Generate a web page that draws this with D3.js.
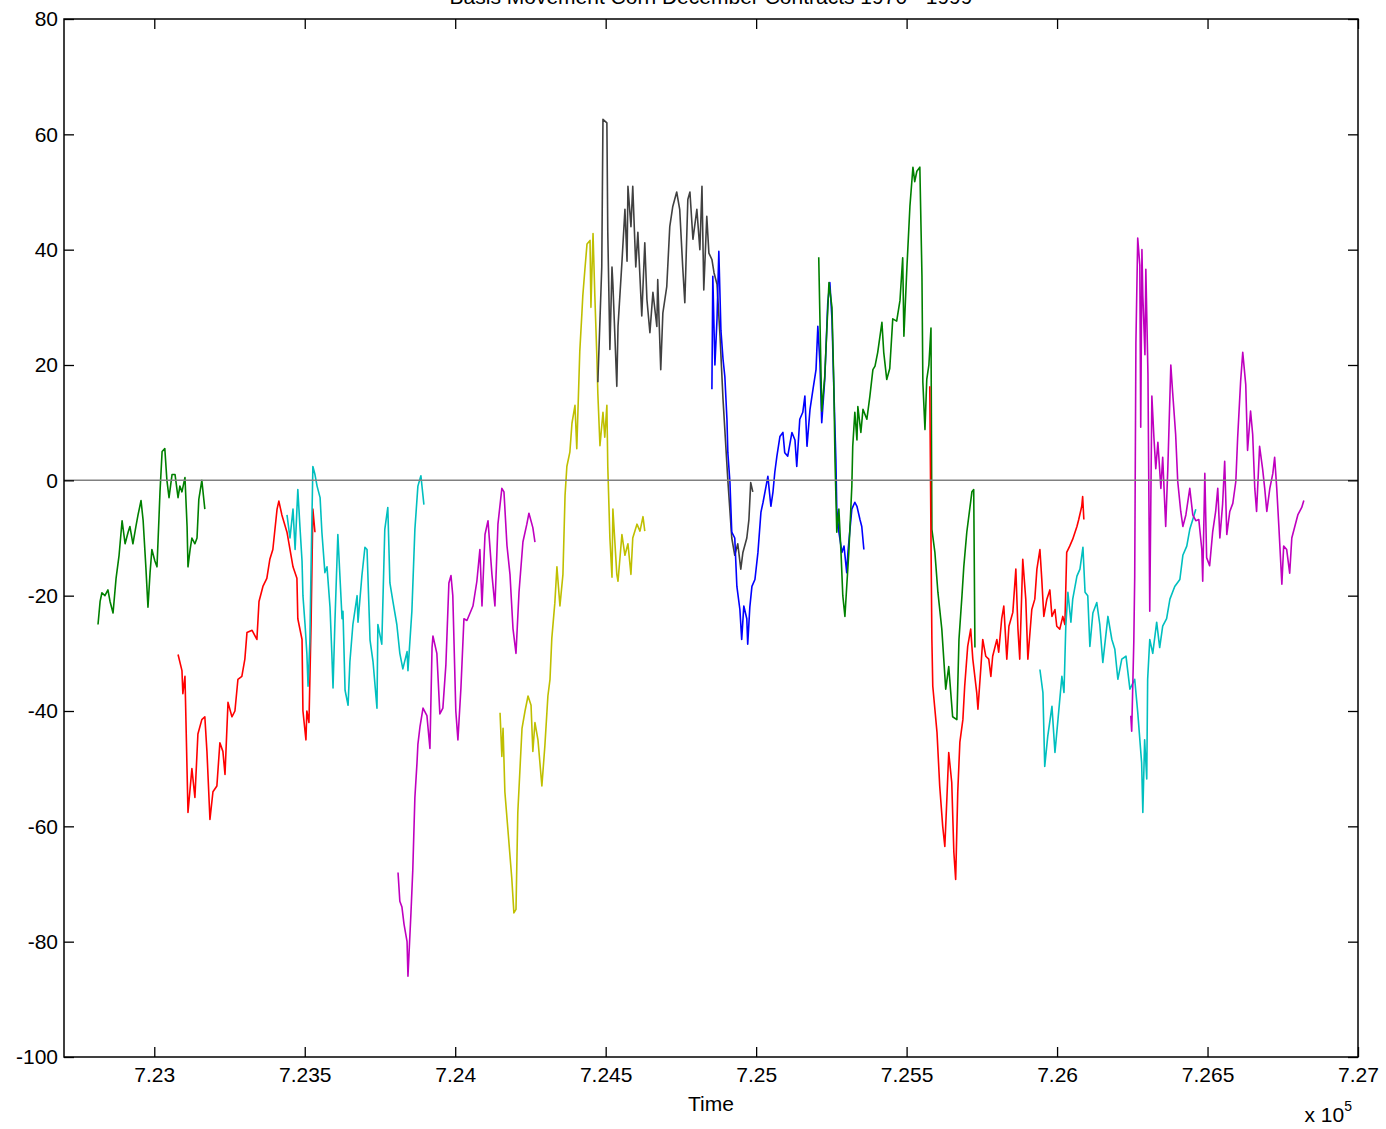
<!DOCTYPE html>
<html>
<head>
<meta charset="utf-8">
<script src="https://cdn.jsdelivr.net/npm/d3@7"></script>
<style>
  html, body { margin: 0; padding: 0; background: #fff; }
  svg { display: block; }
  text { font-family: "Liberation Sans", Arial, Helvetica, sans-serif; }
</style>
</head>
<body>
<svg id="chart" width="1386" height="1129"></svg>
<script>
// ---------------- data ----------------
const titleText = "Basis Movement Corn December Contracts 1970 - 1999";
const xLabelText = "Time";
const xDomain = [722700, 727000];
const yDomain = [-100, 80];
const xTicks = [723000, 723500, 724000, 724500, 725000, 725500, 726000, 726500, 727000];
const xTickLabels = ["7.23", "7.235", "7.24", "7.245", "7.25", "7.255", "7.26", "7.265", "7.27"];
const yTicks = [-100, -80, -60, -40, -20, 0, 20, 40, 60, 80];
const yTickLabels = ["-100", "-80", "-60", "-40", "-20", "0", "20", "40", "60", "80"];
const zeroLevel = 0;

const contract01 = [[722813,-25],[722820,-21],[722826,-19.5],[722836,-20],[722846,-19],[722853,-21],[722863,-23],[722873,-17],[722883,-13],[722893,-7],[722903,-11],[722913,-9],[722919,-8],[722929,-11],[722939,-8],[722946,-6],[722956,-3.5],[722963,-7],[722972,-15],[722979,-22],[722986,-16],[722992,-12],[723002,-14],[723009,-15],[723016,-6],[723019,-2],[723026,5],[723035,5.5],[723042,0],[723049,-3],[723059,1],[723069,1],[723079,-3],[723085,-1],[723092,-2],[723102,0.5],[723109,-8],[723112,-15],[723119,-12],[723125,-10],[723135,-11],[723142,-10],[723148,-3.3],[723158,0],[723168,-5]];
const contract02 = [[723079,-30.2],[723092,-33],[723095,-37],[723102,-34],[723112,-57.6],[723125,-50],[723135,-55],[723145,-44],[723158,-41.5],[723168,-41],[723175,-47],[723185,-58.8],[723195,-54],[723208,-53],[723218,-45.5],[723228,-47],[723235,-51],[723245,-38.5],[723258,-41],[723268,-40],[723278,-34.5],[723291,-34],[723301,-31],[723308,-26.4],[723325,-26],[723341,-27.6],[723348,-21],[723361,-18.4],[723374,-17],[723384,-13.7],[723394,-12],[723408,-5],[723414,-3.6],[723424,-6],[723441,-9],[723461,-15],[723474,-17],[723477,-24],[723491,-27.6],[723494,-40],[723504,-45],[723507,-40],[723514,-42],[723521,-25],[723527,-5],[723534,-9]];
const contract03 = [[723441,-6],[723451,-10],[723461,-5],[723468,-12],[723477,-1.6],[723484,-8],[723491,-14],[723494,-20],[723501,-25],[723507,-30],[723511,-35.7],[723517,-28],[723521,-15],[723527,2.4],[723534,1],[723541,-1],[723551,-3],[723557,-9],[723567,-16],[723574,-15],[723584,-22],[723590,-30],[723594,-36],[723600,-25],[723610,-9.4],[723624,-24],[723627,-22.7],[723634,-36.4],[723644,-39],[723650,-31.5],[723660,-25],[723674,-20],[723677,-24.6],[723690,-16.5],[723700,-11.6],[723707,-12],[723717,-27.7],[723727,-31.5],[723740,-39.5],[723743,-25],[723756,-28.4],[723766,-8.5],[723776,-4.7],[723783,-17.8],[723793,-21],[723806,-25],[723816,-30],[723826,-32.7],[723840,-29.7],[723843,-33],[723856,-22.7],[723866,-8.5],[723876,-1],[723886,0.8],[723896,-4.2]];
const contract04 = [[723810,-68],[723816,-73],[723823,-74],[723830,-77],[723840,-80],[723843,-86],[723853,-75],[723859,-67.6],[723866,-55],[723873,-49],[723876,-45.8],[723883,-42.7],[723893,-39.5],[723906,-40.8],[723916,-46.5],[723923,-29],[723926,-27],[723939,-30],[723949,-40.5],[723959,-39.5],[723969,-32],[723979,-17.8],[723986,-16.5],[723992,-20],[724002,-40],[724009,-45],[724019,-36],[724029,-24],[724039,-24.3],[724059,-21.8],[724072,-17.5],[724082,-12],[724089,-21.8],[724099,-9.4],[724109,-7],[724122,-16.3],[724132,-21.8],[724142,-7.6],[724155,-1.4],[724162,-2],[724172,-11.3],[724182,-16.3],[724192,-25.7],[724202,-30],[724212,-19.4],[724225,-10.7],[724238,-7.6],[724245,-5.7],[724258,-8.2],[724265,-10.7]];
const contract05 = [[724149,-40.3],[724155,-47.9],[724159,-43],[724165,-54],[724175,-60.5],[724188,-69],[724195,-75],[724202,-74.4],[724208,-57.6],[724222,-43],[724232,-40],[724242,-37.4],[724252,-39],[724258,-47],[724265,-42],[724275,-45],[724288,-53],[724298,-46],[724308,-37.4],[724315,-34.5],[724321,-27.4],[724331,-21.3],[724338,-15],[724348,-21.8],[724358,-16.3],[724365,-2.6],[724371,2.4],[724381,4.9],[724388,9.9],[724398,13],[724404,5.5],[724414,22.4],[724421,29],[724424,32],[724431,36.6],[724438,41],[724448,41.6],[724451,30],[724458,42.8],[724464,32],[724471,21],[724474,15],[724481,6],[724491,11.8],[724497,7.5],[724504,13],[724507,2.4],[724514,-10],[724521,-16.8],[724524,-5],[724537,-16.3],[724541,-17.5],[724554,-9.4],[724564,-13],[724574,-11],[724584,-16.3],[724590,-10],[724604,-7.6],[724614,-8.8],[724624,-6.3],[724630,-8.8]];
const contract06 = [[724474,17],[724487,37],[724491,62.6],[724504,62],[724507,43],[724514,22.7],[724521,37],[724524,34],[724537,16.3],[724541,26.7],[724554,37.8],[724564,47],[724571,38],[724574,51],[724584,44],[724590,51],[724600,37],[724607,43],[724620,28.5],[724630,41.2],[724637,31.4],[724647,25.6],[724657,32.6],[724670,26.7],[724673,34.8],[724683,19.2],[724690,29],[724703,33.6],[724713,44],[724723,47.5],[724736,50],[724746,47],[724756,37],[724763,30.8],[724773,48.7],[724780,50],[724790,41.8],[724803,47],[724813,40],[724820,51],[724826,33],[724836,45.8],[724843,39.4],[724853,38.3],[724860,36],[724870,34],[724880,25],[724890,14],[724906,0],[724919,-10],[724929,-13],[724939,-11],[724949,-15.4],[724956,-12.5],[724969,-10],[724976,-6.8],[724982,-0.4],[724989,-2]];
const contract07 = [[724853,15.8],[724856,35.4],[724863,20],[724870,28],[724876,39.7],[724883,26],[724890,21],[724896,18],[724903,10.6],[724906,4.8],[724913,-0.4],[724919,-9],[724929,-10],[724936,-18.4],[724946,-22.4],[724952,-27.6],[724959,-21.8],[724969,-24],[724972,-28.4],[724979,-22],[724986,-18.4],[724996,-17.2],[725006,-12.5],[725016,-5.5],[725023,-3.8],[725033,-1],[725039,0.7],[725049,-4.5],[725056,-2],[725062,1.4],[725069,4.2],[725079,7.6],[725089,8.3],[725095,4.8],[725105,4.2],[725119,8.3],[725129,7],[725135,2.4],[725145,10.6],[725155,11.8],[725162,14.6],[725169,5.9],[725179,12.3],[725189,15.8],[725199,19.2],[725205,26.7],[725212,20.4],[725218,10],[725228,17.5],[725238,30.8],[725245,34.3],[725252,28],[725258,16.3],[725265,3.6],[725268,-5],[725275,-9],[725285,-12.5],[725292,-11.4],[725301,-16],[725305,-12.5],[725311,-9],[725318,-5],[725328,-3.8],[725335,-4.5],[725345,-6.8],[725351,-8],[725358,-12]];
const contract08 = [[725208,38.7],[725218,12],[725228,18],[725242,34.3],[725252,30],[725258,17],[725262,3.6],[725268,-9],[725275,-5],[725282,-12.5],[725288,-20],[725295,-23.6],[725301,-18.4],[725308,-12.5],[725318,-1],[725321,5.9],[725328,11.8],[725335,7],[725338,12.8],[725348,8.3],[725355,12.3],[725368,10.6],[725378,14.6],[725388,19.2],[725395,19.8],[725404,22.2],[725418,27.4],[725424,22.2],[725434,17.5],[725444,19.4],[725454,28],[725467,27.6],[725478,31.2],[725487,38.6],[725491,25],[725501,36.9],[725511,47.5],[725521,54.3],[725527,51.8],[725534,53.6],[725544,54.3],[725551,35.5],[725554,17],[725561,8.8],[725567,17.5],[725574,20],[725581,26.4],[725584,-8.5],[725594,-12.5],[725604,-19.4],[725617,-25.8],[725630,-36.2],[725640,-32.3],[725653,-41],[725667,-41.5],[725674,-27.6],[725684,-20],[725690,-15],[725700,-9],[725717,-2],[725723,-1.6],[725727,-29]];
const contract09 = [[725577,16.3],[725581,-10],[725584,-27.6],[725587,-35.7],[725601,-43.7],[725610,-53],[725620,-60],[725627,-63.5],[725634,-55],[725640,-47.2],[725650,-52.4],[725657,-64.5],[725663,-69.2],[725670,-54],[725677,-45.4],[725687,-41.5],[725693,-35.7],[725703,-28.8],[725713,-25.8],[725720,-31],[725733,-36.8],[725737,-39.7],[725747,-32.3],[725753,-27.6],[725763,-30.5],[725773,-31],[725780,-34],[725786,-30.5],[725800,-27.6],[725806,-29.8],[725816,-24],[725823,-21.8],[725833,-31],[725840,-25.3],[725853,-22.9],[725863,-15.4],[725870,-25.8],[725876,-31],[725886,-13.7],[725896,-20.6],[725903,-31],[725916,-22.4],[725926,-20.6],[725933,-15.4],[725943,-12],[725949,-17],[725956,-23.6],[725966,-20.6],[725976,-19],[725983,-23.6],[725993,-22.4],[725999,-25.3],[726009,-25.8],[726019,-23.6],[726026,-25],[726032,-12.5],[726042,-11.4],[726052,-10.2],[726066,-8],[726072,-6.8],[726082,-4.5],[726085,-2.8],[726089,-6.8]];
const contract10 = [[725943,-32.8],[725953,-36.8],[725959,-49.6],[725969,-44.4],[725983,-39.2],[725993,-47.2],[726003,-41.5],[726016,-34],[726023,-36.8],[726029,-25.3],[726036,-19.4],[726046,-24.6],[726052,-20.6],[726066,-16.6],[726076,-15.4],[726086,-11.6],[726093,-19.4],[726102,-20],[726109,-28.8],[726119,-23],[726132,-21.2],[726142,-25],[726152,-31.6],[726169,-23.6],[726182,-27.6],[726192,-29.3],[726202,-34.5],[726215,-31],[726229,-30.5],[726242,-36.2],[726258,-34.5],[726268,-40.2],[726281,-49],[726285,-57.6],[726291,-45],[726298,-51.8],[726301,-34.5],[726308,-27.6],[726318,-30],[726331,-24.6],[726341,-29],[726351,-25.3],[726364,-24],[726375,-20.6],[726391,-18.4],[726408,-17.2],[726418,-13],[726431,-11.4],[726441,-8.5],[726451,-6.8],[726461,-5]];
const contract11 = [[726245,-40.8],[726248,-43.5],[726255,-28],[726258,-16.8],[726262,23.9],[726268,42],[726275,37.3],[726278,9.2],[726282,40],[726285,32],[726292,21.8],[726295,36.6],[726302,18.5],[726308,-22.7],[726315,14.6],[726322,7.3],[726328,2],[726335,6.6],[726345,-1.4],[726351,4],[726361,-8],[726368,2],[726378,20],[726384,15.3],[726394,8],[726401,-0.2],[726411,-5.4],[726418,-8],[726428,-6],[726441,-1.4],[726451,-6],[726461,-7],[726471,-6.8],[726481,-12],[726484,-17.5],[726491,1.2],[726497,-13.4],[726507,-14.8],[726517,-9],[726527,-5.4],[726534,-1.4],[726541,-10],[726550,-4.2],[726557,3.3],[726564,-9.4],[726574,-5.4],[726584,-4],[726594,-0.2],[726600,7.3],[726610,17.2],[726617,22.2],[726627,16.6],[726633,5.2],[726643,12],[726650,8],[726657,-1.4],[726663,-5.4],[726673,5.9],[726683,2],[726690,-1.4],[726697,-5.4],[726707,-1.4],[726717,1.2],[726723,4],[726730,-1.4],[726737,-8],[726747,-18],[726753,-11.4],[726763,-12],[726773,-16.1],[726780,-10],[726790,-8],[726800,-6],[726813,-4.7],[726820,-3.5]];

const contracts = [contract01, contract02, contract03, contract04, contract05, contract06,
                   contract07, contract08, contract09, contract10, contract11];
// MATLAB classic colour order, cycling
const seriesColors = ["#008000", "#ff0000", "#00bfbf", "#bf00bf", "#bfbf00", "#404040",
                      "#0000ff", "#008000", "#ff0000", "#00bfbf", "#bf00bf"];

// ---------------- layout ----------------
const W = 1386, H = 1129;
const margin = { left: 64, top: 19, right: 1386 - 1358, bottom: 1129 - 1057 };
const fontSize = 21;

const svg = d3.select("#chart");
const x = d3.scaleLinear().domain(xDomain).range([margin.left, W - margin.right]);
const y = d3.scaleLinear().domain(yDomain).range([H - margin.bottom, margin.top]);

const plotG = svg.append("g");
plotG.append("clipPath").attr("id", "clip")
  .append("rect")
  .attr("x", x(xDomain[0])).attr("y", y(yDomain[1]))
  .attr("width", x(xDomain[1]) - x(xDomain[0]))
  .attr("height", y(yDomain[0]) - y(yDomain[1]));

const line = d3.line().x(d => x(d[0])).y(d => y(d[1]));

const linesG = plotG.append("g").attr("clip-path", "url(#clip)");
contracts.forEach((c, i) => {
  linesG.append("path")
    .datum(c)
    .attr("d", line)
    .attr("fill", "none")
    .attr("stroke", seriesColors[i])
    .attr("stroke-width", 1.6)
    .attr("stroke-linejoin", "round");
});

// zero reference line
linesG.append("line")
  .attr("x1", x(xDomain[0])).attr("x2", x(xDomain[1]))
  .attr("y1", y(zeroLevel)).attr("y2", y(zeroLevel))
  .attr("stroke", "#808080").attr("stroke-width", 1.5);

// axes
const tickLen = 10;
const bottomAxis = d3.axisBottom(x).tickValues(xTicks)
  .tickFormat((d, i) => xTickLabels[i])
  .tickSizeInner(-tickLen).tickSizeOuter(0).tickPadding(10);
const topAxis = d3.axisTop(x).tickValues(xTicks).tickFormat("")
  .tickSizeInner(-tickLen).tickSizeOuter(0);
const leftAxis = d3.axisLeft(y).tickValues(yTicks)
  .tickFormat((d, i) => yTickLabels[i])
  .tickSizeInner(-tickLen).tickSizeOuter(0).tickPadding(6);
const rightAxis = d3.axisRight(y).tickValues(yTicks).tickFormat("")
  .tickSizeInner(-tickLen).tickSizeOuter(0);

function styleAxis(g) {
  g.select(".domain").remove();
  g.selectAll(".tick line").attr("stroke", "#000").attr("stroke-width", 1.3);
  g.selectAll(".tick text").attr("fill", "#000")
    .style("font-size", fontSize + "px")
    .style("font-family", '"Liberation Sans", Arial, sans-serif');
}

svg.append("g").attr("transform", `translate(0,${y(yDomain[0])})`).call(bottomAxis).call(styleAxis);
svg.append("g").attr("transform", `translate(0,${y(yDomain[1])})`).call(topAxis).call(styleAxis);
svg.append("g").attr("transform", `translate(${x(xDomain[0])},0)`).call(leftAxis).call(styleAxis);
svg.append("g").attr("transform", `translate(${x(xDomain[1])},0)`).call(rightAxis).call(styleAxis);

// box
svg.append("rect")
  .attr("x", x(xDomain[0])).attr("y", y(yDomain[1]))
  .attr("width", x(xDomain[1]) - x(xDomain[0]))
  .attr("height", y(yDomain[0]) - y(yDomain[1]))
  .attr("fill", "none").attr("stroke", "#000").attr("stroke-width", 1.5);

// title (partially cut off at top, as in the reference)
svg.append("text")
  .attr("x", (x(xDomain[0]) + x(xDomain[1])) / 2)
  .attr("y", 4)
  .attr("text-anchor", "middle")
  .style("font-size", fontSize + "px")
  .text(titleText);

// x label
svg.append("text")
  .attr("x", (x(xDomain[0]) + x(xDomain[1])) / 2)
  .attr("y", 1111)
  .attr("text-anchor", "middle")
  .style("font-size", fontSize + "px")
  .text(xLabelText);

// exponent label
const expT = svg.append("text")
  .attr("x", x(xDomain[1]) - 6)
  .attr("y", 1122)
  .attr("text-anchor", "end")
  .style("font-size", fontSize + "px");
expT.append("tspan").text("x 10");
expT.append("tspan").attr("dy", -11).style("font-size", "14px").text("5");
</script>
</body>
</html>
